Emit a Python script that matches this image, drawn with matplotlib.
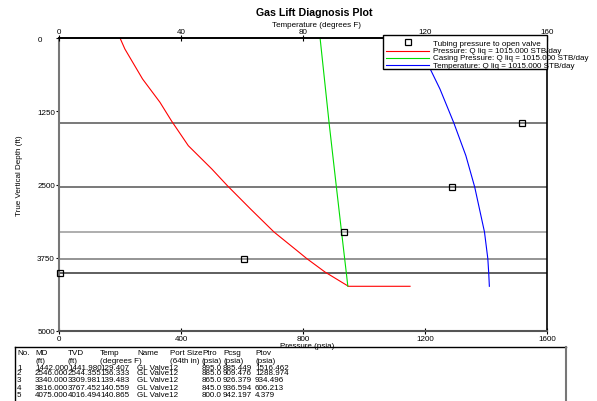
import matplotlib
matplotlib.use("Agg")
import matplotlib.pyplot as plt
from matplotlib.lines import Line2D
from matplotlib.patches import Rectangle
from matplotlib.transforms import ScaledTranslation

plt.rcParams['font.family'] = ['Liberation Sans', 'DejaVu Sans']

# tubing pressure traverse (ft, psia)
p_depth = [0, 188, 700, 1097, 1416, 1838, 2235, 2520, 2918, 3311, 3669, 3767, 3993, 4237, 4237]
p_psia = [200, 216, 274, 331, 369, 424, 501, 552, 628, 705, 790, 813, 872, 949, 1151]

# casing pressure (ft, psia)
c_depth = [0, 1442, 2544, 3310, 3767, 4016, 4237]
c_psia = [856, 885.4, 909.5, 926.4, 936.6, 942.2, 947]

# flowing temperature (ft, degF)
t_depth = [0, 517, 870, 1442, 2008, 2544, 3310, 3767, 4016, 4237]
t_degf = [116.8, 121.6, 124.9, 129.4, 133.4, 136.3, 139.5, 140.6, 140.9, 141.1]

# valve table
valve_no = ['1', '2', '3', '4', '5']
valve_md = ['1442.000', '2546.000', '3340.000', '3816.000', '4075.000']
valve_tvd = [1441.980, 2544.355, 3309.981, 3767.452, 4016.494]
valve_temp = ['129.407', '136.333', '139.483', '140.559', '140.865']
valve_name = ['GL Valve12'] * 5
valve_ptro = ['895.0', '885.0', '865.0', '845.0', '800.0']
valve_pcsg = ['885.449', '909.476', '926.379', '936.594', '942.197']
valve_ptov = [1516.462, 1288.974, 934.496, 606.213, 4.379]
valve_line_colors = ['#555555', '#555555', '#999999', '#777777', '#333333']

W, H = 597, 402
fs = 5.8


def fx(px):
    return px / W


def fy(py):
    return 1 - py / H


fig = plt.figure(figsize=(W / 100, H / 100), dpi=100)
ax = fig.add_axes([fx(59), fy(332), 488 / W, 293 / H])

for tvd, c in zip(valve_tvd, valve_line_colors):
    ax.axhline(tvd, color=c, lw=1.1, zorder=1)

ax.plot(p_psia, p_depth, color='#ff0000', lw=0.8, zorder=2)
ax.plot(c_psia, c_depth, color='#00dd00', lw=0.8, zorder=2)
ax.plot(valve_ptov, valve_tvd, 's', mfc='none', mec='black', ms=4.3, mew=0.9,
        zorder=3, clip_on=False)

ax.set_xlim(0, 1600)
ax.set_ylim(5000, 0)
ax.set_xticks([0, 400, 800, 1200, 1600])
ax.set_yticks([0, 1250, 2500, 3750, 5000])
ax.tick_params(axis='x', direction='inout', length=4, width=0.8, labelsize=fs, pad=1)
ax.tick_params(axis='y', direction='out', length=2, width=0.8, labelsize=fs, pad=1)
ax.get_yticklabels()[0].set_transform(
    ax.get_yticklabels()[0].get_transform() + ScaledTranslation(-0.13, 0, fig.dpi_scale_trans))

ax.spines['left'].set_color('#777777')
ax.spines['left'].set_linewidth(1.5)
ax.spines['bottom'].set_color('#555555')
ax.spines['bottom'].set_linewidth(1.5)
ax.spines['top'].set_linewidth(1.2)
ax.spines['right'].set_linewidth(1.2)

ax2 = ax.twiny()
ax2.plot(t_degf, t_depth, color='#0000ff', lw=0.8)
ax2.set_xlim(0, 160)
ax2.set_xticks([0, 40, 80, 120, 160])
ax2.tick_params(axis='x', direction='inout', length=4, width=0.8, labelsize=fs, pad=0.5)
for s in ['left', 'bottom', 'right']:
    ax2.spines[s].set_visible(False)
ax2.spines['top'].set_linewidth(1.2)

fig.text(fx(314.5), fy(13), 'Gas Lift Diagnosis Plot', fontsize=7.7, fontweight='bold',
         ha='center', va='center')
fig.text(fx(316), fy(25.5), 'Temperature (degrees F)', fontsize=fs, ha='center', va='center')
fig.text(fx(307.5), fy(346.5), 'Pressure (psia)', fontsize=fs, ha='center', va='center')
fig.text(fx(20), fy(176), 'True Vertical Depth (ft)', fontsize=fs, ha='center', va='center',
         rotation=90)

# legend box
fig.add_artist(Rectangle((fx(383), fy(70)), 164 / W, 34 / H, transform=fig.transFigure,
                         facecolor='white', edgecolor='black', lw=1, zorder=5))
leg_rows = [
    ('Tubing pressure to open valve', None),
    ('Pressure: Q liq = 1015.000 STB/day', '#ff0000'),
    ('Casing Pressure: Q liq = 1015.000 STB/day', '#00dd00'),
    ('Temperature: Q liq = 1015.000 STB/day', '#0000ff'),
]
leg_y = [44, 51.5, 59, 66]
for (txt, col), y in zip(leg_rows, leg_y):
    if col is None:
        fig.add_artist(Line2D([fx(408)], [fy(y - 1.5)], marker='s', mfc='none', mec='black',
                              ms=4.3, mew=0.9, transform=fig.transFigure, zorder=6))
    else:
        fig.add_artist(Line2D([fx(386), fx(429)], [fy(y), fy(y)], color=col, lw=0.8,
                              transform=fig.transFigure, zorder=6))
    fig.text(fx(433), fy(y), txt, fontsize=fs, ha='left', va='center', zorder=7)

# valve table
fig.add_artist(Line2D([fx(15), fx(566)], [fy(348), fy(348)], color='black', lw=1,
                      transform=fig.transFigure))
fig.add_artist(Line2D([fx(15), fx(15)], [fy(348), fy(402)], color='black', lw=1,
                      transform=fig.transFigure))
fig.add_artist(Line2D([fx(566), fx(566)], [fy(348), fy(402)], color='#777777', lw=1.5,
                      transform=fig.transFigure))

headers = [(17, 'No.', ''), (35, 'MD', '(ft)'), (68, 'TVD', '(ft)'), (100, 'Temp', '(degrees F)'),
           (137, 'Name', ''), (170, 'Port Size', '(64th in)'), (202, 'Ptro', '(psia)'),
           (223, 'Pcsg', '(psia)'), (255, 'Ptov', '(psia)')]
for x, h, u in headers:
    fig.text(fx(x), fy(354), h, fontsize=fs, ha='left', va='center')
    if u:
        fig.text(fx(x), fy(361.5), u, fontsize=fs, ha='left', va='center')

row_y = [368, 373.5, 381, 388.5, 396]
for i, y in enumerate(row_y):
    cells = [(17, valve_no[i]), (35, valve_md[i]), (68, '%.3f' % valve_tvd[i]),
             (100, valve_temp[i]), (137, valve_name[i]), (202, valve_ptro[i]),
             (223, valve_pcsg[i]), (255, '%.3f' % valve_ptov[i])]
    for x, t in cells:
        fig.text(fx(x), fy(y), t, fontsize=fs, ha='left', va='center')

fig.savefig('out.png', dpi=100)
